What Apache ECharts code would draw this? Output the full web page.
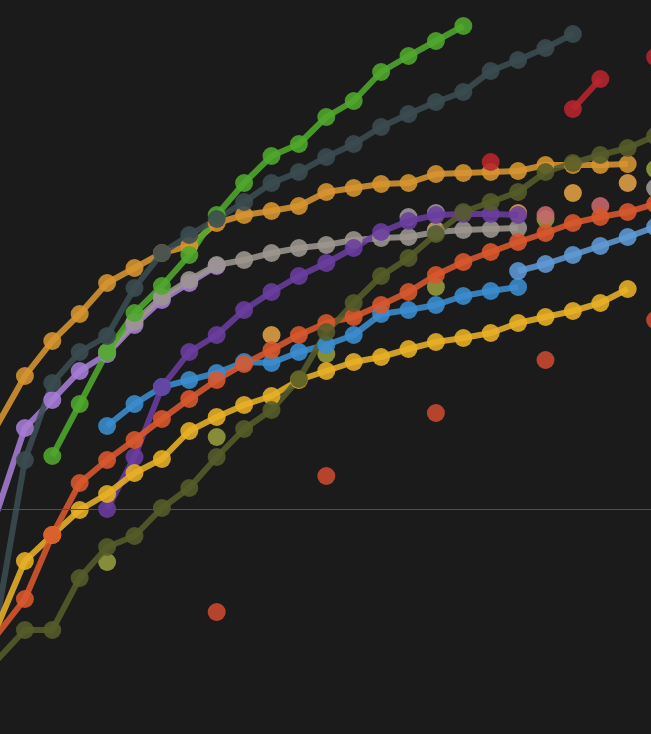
<!DOCTYPE html>
<html>
<head>
<meta charset="utf-8">
<script src="https://cdn.jsdelivr.net/npm/echarts@6/dist/echarts.min.js"></script>
<style>
  html, body { margin: 0; padding: 0; background: #1b1b1b; }
  #chart { width: 651px; height: 734px; }
</style>
</head>
<body>
<div id="chart"></div>
<script>
// ---- data (x = step index, y = value) ----
// Lines entering from the left edge have an earlier, off-screen point at step -1.
const leadStep = -1;

const lavenderLead = 141;
const lavenderStart = 1;
const lavenderVals = [306, 334, 363, 380, 409, 434, 451, 468];

const greyStart = 4;
const greyVals = [382, 412, 437, 454, 469, 474, 481, 486, 489, 494, 496, 497, 502, 504, 505, 506];

const goldLead = 261;
const goldStart = 1;
const goldVals = [358, 393, 420, 451, 466, 481, 488, 511, 519, 523, 528, 542, 546, 550, 551, 560, 561, 562, 563, 569, 569, 569, 570];

const greenStart = 2;
const greenVals = [278, 330, 382, 421, 448, 479, 519, 551, 578, 590, 617, 633, 662, 678, 693, 708];

const slateLead = -40;
const slateStart = 1;
const slateVals = [274, 351, 382, 398, 446, 481, 499, 515, 532, 551, 562, 577, 590, 607, 620, 632, 642, 663, 674, 686, 700];

const blueStart = 4;
const blueVals = [308, 330, 347, 354, 361, 372, 371, 382, 389, 399, 420, 424, 429, 438, 443, 447];

const lightBlueStart = 19;
const lightBlueVals = [463, 470, 479, 488, 497, 507];

const purpleStart = 4;
const purpleVals = [225, 277, 347, 382, 399, 424, 442, 458, 471, 486, 502, 513, 519, 520, 520, 519];

const yellowLead = 43;
const yellowStart = 1;
const yellowVals = [173, 199, 224, 240, 261, 275, 303, 317, 329, 338, 354, 363, 372, 377, 385, 392, 396, 401, 411, 417, 423, 431, 445];

const orangeLead = 65;
const orangeStart = 1;
const orangeVals = [135, 199, 251, 274, 294, 315, 335, 354, 370, 384, 399, 411, 417, 429, 442, 459, 472, 482, 492, 501, 511, 517, 522, 530];

const oliveLead = 45;
const oliveStart = 1;
const oliveVals = [104, 104, 156, 187, 198, 226, 246, 277, 305, 324, 355, 402, 431, 458, 476, 500, 522, 532, 542, 562, 571, 579, 586, 598];

// sparse series (index lists + values)
const lightOliveIdx = [4, 8, 12, 16, 20, 24];
const lightOliveVals = [172, 297, 380, 447, 515, 565];

const redDotIdx = [8, 12, 16, 20, 24];
const redDotVals = [122, 258, 321, 374, 414];

const goldDotIdx = [10, 16, 19, 21, 23];
const goldDotVals = [399, 504, 521, 541, 551];

const pinkIdx = [20, 22];
const pinkVals = [519, 528];

const greyDotIdx = [15, 16, 24];
const greyDotVals = [517, 521, 546];

const redIdx = [18, 19, 20, 21, 22, 23, 24];
const redVals = [572, null, null, 625, 655, null, 677];

const baselineValue = 225;

// ---- build ----
const seq = (start, vals) => vals.map((v, k) => [start + k, v]);
const withLead = (lead, start, vals) => [[leadStep, lead]].concat(seq(start, vals));
const pairs = (idx, vals) => idx.map((i, k) => [i, vals[k] == null ? '-' : vals[k]]);

const SYM = 18, LW = 6, OP = 0.88;

function lineSeries(name, color, data, extra) {
  return Object.assign({
    name, type: 'line', data,
    symbol: 'circle', symbolSize: SYM, showSymbol: true, showAllSymbol: true,
    clip: false, silent: true,
    lineStyle: { color, width: LW, opacity: OP },
    itemStyle: { color, opacity: OP, borderWidth: 0 },
    emphasis: { disabled: true }
  }, extra || {});
}
function dotSeries(name, color, data) {
  return {
    name, type: 'scatter', data, symbol: 'circle', symbolSize: SYM,
    clip: false, silent: true,
    itemStyle: { color, opacity: OP },
    emphasis: { disabled: true }
  };
}

const series = [
  lineSeries('lavender', '#a67cd6', withLead(lavenderLead, lavenderStart, lavenderVals), {
    markLine: {
      silent: true, symbol: 'none', label: { show: false },
      lineStyle: { color: '#505050', width: 1, type: 'solid', opacity: 1 },
      data: [{ yAxis: baselineValue }]
    }
  }),
  lineSeries('grey', '#9c968e', seq(greyStart, greyVals)),
  lineSeries('gold', '#d79530', withLead(goldLead, goldStart, goldVals)),
  lineSeries('green', '#50a82c', seq(greenStart, greenVals)),
  lineSeries('slate', '#3b4c51', withLead(slateLead, slateStart, slateVals)),
  lineSeries('blue', '#3a8dcf', seq(blueStart, blueVals)),
  lineSeries('lightblue', '#5e9ad6', seq(lightBlueStart, lightBlueVals)),
  lineSeries('purple', '#6a3e9f', seq(purpleStart, purpleVals)),
  lineSeries('yellow', '#e8b125', withLead(yellowLead, yellowStart, yellowVals)),
  lineSeries('orange', '#d9582e', withLead(orangeLead, orangeStart, orangeVals)),
  lineSeries('olive', '#555c29', withLead(oliveLead, oliveStart, oliveVals)),
  dotSeries('lightolive', '#959c3c', pairs(lightOliveIdx, lightOliveVals)),
  dotSeries('reddot', '#cc4a2f', pairs(redDotIdx, redDotVals)),
  dotSeries('golddot', '#e0a144', pairs(goldDotIdx, goldDotVals)),
  dotSeries('pink', '#c8686c', pairs(pinkIdx, pinkVals)),
  dotSeries('greydot', '#a09b98', pairs(greyDotIdx, greyDotVals)),
  lineSeries('red', '#b8252e', pairs(redIdx, redVals), { connectNulls: false })
];

const chart = echarts.init(document.getElementById('chart'), null, { renderer: 'canvas' });
chart.setOption({
  animation: false,
  backgroundColor: '#1b1b1b',
  grid: { left: 0, right: 0, top: 0, bottom: 0, containLabel: false },
  xAxis: { type: 'value', min: 0.091, max: 23.85, show: false },
  yAxis: { type: 'value', min: 0, max: 734, show: false },
  tooltip: { show: false },
  series
});
</script>
</body>
</html>
